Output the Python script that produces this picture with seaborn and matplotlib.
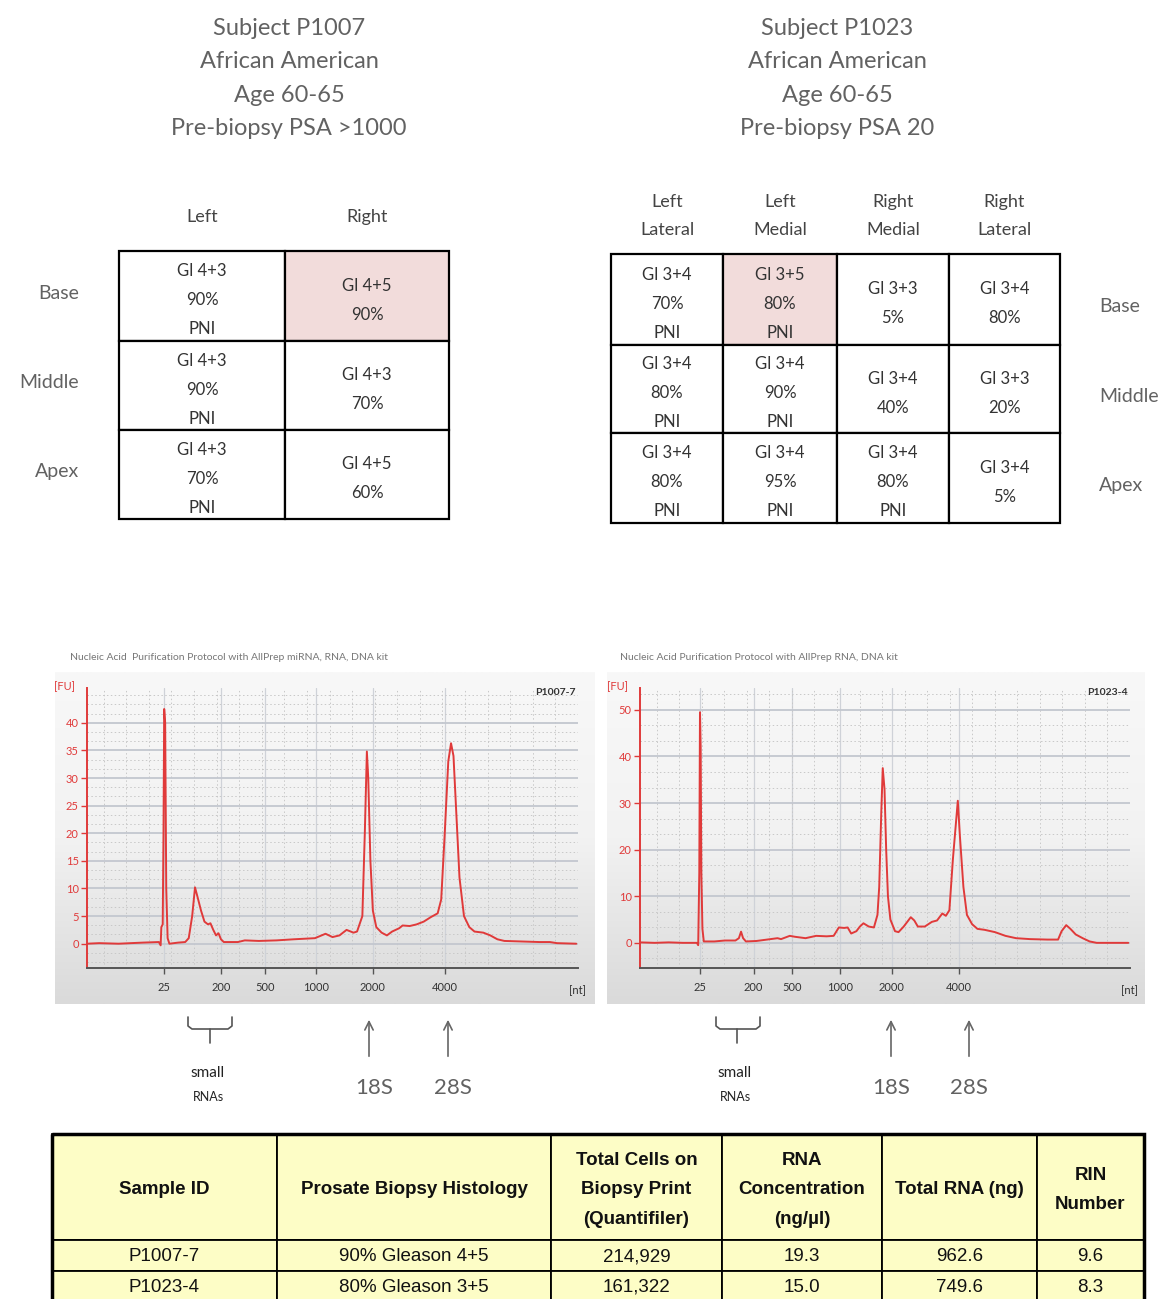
import numpy as np
import pandas as pd
import matplotlib
matplotlib.use("Agg")
import matplotlib.pyplot as plt
import seaborn as sns
from matplotlib.patches import Rectangle, FancyArrowPatch
from matplotlib.ticker import FixedLocator, MultipleLocator
from matplotlib.colors import LinearSegmentedColormap

# ------------------------------------------------------------------ data
subject_1 = ["Subject P1007", "African American", "Age 60-65", "Pre-biopsy PSA >1000"]
subject_2 = ["Subject P1023", "African American", "Age 60-65", "Pre-biopsy PSA 20"]

zones = ["Base", "Middle", "Apex"]
cols_1 = ["Left", "Right"]
cells_1 = [["Gl 4+3\n90%\nPNI", "Gl 4+5\n90%"],
           ["Gl 4+3\n90%\nPNI", "Gl 4+3\n70%"],
           ["Gl 4+3\n70%\nPNI", "Gl 4+5\n60%"]]
highlight_1 = [(0, 1)]

cols_2 = ["Left\nLateral", "Left\nMedial", "Right\nMedial", "Right\nLateral"]
cells_2 = [["Gl 3+4\n70%\nPNI", "Gl 3+5\n80%\nPNI", "Gl 3+3\n5%", "Gl 3+4\n80%"],
           ["Gl 3+4\n80%\nPNI", "Gl 3+4\n90%\nPNI", "Gl 3+4\n40%", "Gl 3+3\n20%"],
           ["Gl 3+4\n80%\nPNI", "Gl 3+4\n95%\nPNI", "Gl 3+4\n80%\nPNI", "Gl 3+4\n5%"]]
highlight_2 = [(0, 1)]

# electropherogram traces: migration time (s) vs fluorescence (FU)
time_1 = [19.00, 20.25, 22.21, 24.71, 26.32, 26.50, 26.57, 26.71, 26.79, 26.86, 26.96, 27.07,
          27.21, 27.39, 28.29, 29.00, 29.36, 29.71, 30.00, 30.25, 30.61, 30.96, 31.32, 31.57,
          31.86, 32.14, 32.39, 32.64, 32.93, 34.36, 35.07, 36.50, 38.29, 40.07, 42.21, 43.29,
          44.00, 44.71, 45.43, 46.14, 46.50, 47.04, 47.29, 47.50, 47.64, 47.86, 48.11, 48.46,
          49.00, 49.54, 50.07, 50.79, 51.14, 51.86, 52.57, 53.29, 54.00, 54.71, 55.07, 55.43,
          55.79, 56.07, 56.32, 56.57, 56.93, 57.39, 57.93, 58.46, 59.36, 60.07, 60.79, 61.50,
          63.29, 65.07, 66.14, 66.86, 68.82]
fu_1 = [0.0, 0.1, 0.0, 0.2, 0.3, -0.3, 3.0, 3.5, 20.0, 42.5, 40.0, 10.0,
        1.0, 0.0, 0.2, 0.3, 1.0, 5.0, 10.2, 8.5, 6.0, 4.0, 3.5, 3.7,
        2.5, 1.5, 1.9, 0.8, 0.3, 0.3, 0.6, 0.5, 0.6, 0.8, 1.0, 1.8,
        1.2, 1.5, 2.5, 2.0, 2.2, 5.0, 20.0, 34.8, 30.0, 15.0, 6.0, 3.0,
        2.0, 1.5, 2.2, 2.8, 3.3, 3.2, 3.5, 4.0, 4.8, 5.5, 8.0, 20.0,
        33.0, 36.3, 34.0, 25.0, 12.0, 5.0, 3.0, 2.2, 2.0, 1.5, 0.8, 0.5,
        0.4, 0.3, 0.3, 0.1, 0.0]

time_2 = [19.00, 20.50, 21.93, 23.37, 24.80, 24.94, 25.05, 25.12, 25.19, 25.26, 25.37, 25.51,
          26.59, 27.66, 28.74, 29.09, 29.31, 29.52, 29.81, 30.88, 31.96, 33.03, 33.39, 34.28,
          34.82, 35.89, 36.97, 38.04, 38.76, 39.29, 39.83, 40.19, 40.55, 41.08, 41.44, 41.80,
          42.34, 42.87, 43.23, 43.41, 43.62, 43.77, 43.95, 44.12, 44.30, 44.55, 45.02, 45.38,
          45.91, 46.27, 46.63, 46.99, 47.35, 48.06, 48.78, 49.31, 49.85, 50.21, 50.57, 50.93,
          51.21, 51.43, 51.64, 52.00, 52.36, 52.89, 53.43, 54.15, 55.22, 56.29, 57.37, 58.80,
          60.59, 61.66, 62.02, 62.49, 62.92, 63.46, 64.17, 64.88, 65.60, 68.46, 68.82]
fu_2 = [0.1, 0.0, 0.1, 0.0, 0.0, -0.5, 15.0, 49.5, 42.0, 15.0, 3.0, 0.3,
        0.3, 0.5, 0.5, 1.0, 2.4, 1.0, 0.3, 0.4, 0.7, 1.0, 0.8, 1.5,
        1.3, 1.0, 1.5, 1.4, 1.5, 3.3, 3.2, 3.3, 2.0, 2.5, 3.5, 4.2,
        3.5, 3.3, 6.0, 12.0, 28.0, 37.5, 33.0, 20.0, 10.0, 5.0, 2.5, 2.3,
        3.5, 4.5, 5.5, 4.8, 3.5, 3.5, 4.5, 4.8, 6.3, 5.8, 7.0, 18.0,
        25.0, 30.5, 23.0, 12.0, 6.0, 4.0, 3.0, 2.8, 2.3, 1.5, 1.0, 0.8,
        0.7, 0.7, 2.5, 3.8, 3.0, 1.8, 1.0, 0.3, 0.0, 0.0, 0.0]

fu_ticks_1 = [0, 5, 10, 15, 20, 25, 30, 35, 40]
fu_ticks_2 = [0, 10, 20, 30, 40, 50]

nt_labels = ["25", "200", "500", "1000", "2000", "4000"]
nt_time_1 = [26.86, 32.68, 37.11, 42.32, 48.11, 55.43]
nt_time_2 = [25.16, 30.60, 34.53, 39.37, 44.70, 51.57]

plot_titles = ["Nucleic Acid  Purification Protocol with AllPrep miRNA, RNA, DNA kit",
               "Nucleic Acid Purification Protocol with AllPrep RNA, DNA kit"]
sample_names = ["P1007-7", "P1023-4"]

table_header = ["Sample ID", "Prosate Biopsy Histology", "Total Cells on\nBiopsy Print\n(Quantifiler)",
                "RNA\nConcentration\n(ng/\u00b5l)", "Total RNA (ng)", "RIN\nNumber"]
table_rows = [["P1007-7", "90% Gleason 4+5", "214,929", "19.3", "962.6", "9.6"],
              ["P1023-4", "80% Gleason 3+5", "161,322", "15.0", "749.6", "8.3"]]

# ------------------------------------------------------------------ style
sns.set_style("white")
plt.rcParams["font.family"] = ["Lato", "DejaVu Sans"]

W, H = 1167, 1299
fig = plt.figure(figsize=(W / 100, H / 100), dpi=100)

ov = fig.add_axes([0, 0, 1, 1], zorder=0)
ov.set_xlim(0, W)
ov.set_ylim(H, 0)
ov.axis("off")

GRAY = "#626262"
PINK = "#f2dcdb"

# subject headers (one text per line)
title_rows_y = [28, 61, 95, 128]
for cx, lines in [(289, subject_1), (837, subject_2)]:
    for y, line in zip(title_rows_y, lines):
        ov.text(cx, y, line, ha="center", va="center", fontsize=17, color=GRAY)


def draw_grid(x_edges, y_edges, cells, highlight, cols, header_y, row_x, row_ha, row_dy):
    for i in range(len(y_edges) - 1):
        for j in range(len(x_edges) - 1):
            x0, x1 = x_edges[j], x_edges[j + 1]
            y0, y1 = y_edges[i], y_edges[i + 1]
            fc = PINK if (i, j) in highlight else "white"
            ov.add_patch(Rectangle((x0, y0), x1 - x0, y1 - y0, facecolor=fc,
                                   edgecolor="black", lw=1.6))
            ov.text((x0 + x1) / 2, (y0 + y1) / 2 + 4, cells[i][j], ha="center", va="center",
                    fontsize=12, color="#333333", linespacing=2.0)
        ov.text(row_x, (y_edges[i] + y_edges[i + 1]) / 2 + row_dy, zones[i], ha=row_ha,
                va="center", fontsize=14, color=GRAY)
    for j, c in enumerate(cols):
        ov.text((x_edges[j] + x_edges[j + 1]) / 2, header_y, c, ha="center", va="center",
                fontsize=13, color="#444444", linespacing=1.9)


draw_grid([119, 285, 449], [251, 341, 430, 519], cells_1, highlight_1, cols_1,
          217, 79, "right", -3)
draw_grid([611, 723, 837, 949, 1060], [254, 345, 433, 523], cells_2, highlight_2, cols_2,
          216, 1099, "left", 7)

# electropherogram panels
grad_cmap = LinearSegmentedColormap.from_list("g", ["#f8f8f8", "#f2f2f2", "#dadada"])
grad = np.linspace(0, 1, 200).reshape(-1, 1)
for (px0, px1) in [(55, 595), (607, 1145)]:
    ov.imshow(grad, extent=[px0, px1, 1004, 672], cmap=grad_cmap, aspect="auto",
              origin="upper", zorder=0)
ov.set_xlim(0, W)
ov.set_ylim(H, 0)

ov.text(70, 657, plot_titles[0], ha="left", va="center", fontsize=7.5, color="#777777")
ov.text(620, 657, plot_titles[1], ha="left", va="center", fontsize=7.5, color="#777777")

RED = "#e03a3a"
panels = [
    dict(left=87, right=578, t=time_1, fu=fu_1, ticks=nt_time_1, ylim=(-4.4, 46.3),
         yt=fu_ticks_1, ymin=5 / 3, name=sample_names[0]),
    dict(left=640, right=1130, t=time_2, fu=fu_2, ticks=nt_time_2, ylim=(-5.4, 54.7),
         yt=fu_ticks_2, ymin=10 / 3, name=sample_names[1]),
]
top_px, bot_px = 688, 968
for p in panels:
    ax = fig.add_axes([p["left"] / W, 1 - bot_px / H, (p["right"] - p["left"]) / W,
                       (bot_px - top_px) / H], zorder=2)
    ax.patch.set_alpha(0)
    df = pd.DataFrame({"time": p["t"], "fu": p["fu"]})
    sns.lineplot(data=df, x="time", y="fu", ax=ax, color=RED, lw=1.4, estimator=None,
                 sort=False)
    ax.set_xlim(19, 69)
    ax.set_ylim(*p["ylim"])
    ax.set_xlabel("")
    ax.set_ylabel("")
    ax.yaxis.set_major_locator(FixedLocator(p["yt"]))
    ax.yaxis.set_minor_locator(MultipleLocator(p["ymin"]))
    ax.xaxis.set_major_locator(FixedLocator(p["ticks"]))
    ax.set_xticklabels(nt_labels)
    ax.xaxis.set_minor_locator(MultipleLocator(2.3))
    ax.grid(True, which="major", axis="y", color="#c3c7cf", lw=1.3)
    ax.grid(True, which="major", axis="x", color="#cfd2d8", lw=0.9)
    ax.grid(True, which="minor", axis="both", color="#c8c8c8", lw=0.7, ls=(0, (1.5, 2.5)))
    for s in ["top", "right"]:
        ax.spines[s].set_visible(False)
    ax.spines["left"].set_color(RED)
    ax.spines["left"].set_linewidth(1.4)
    ax.spines["bottom"].set_color("#555555")
    ax.spines["bottom"].set_linewidth(1.4)
    ax.tick_params(axis="y", which="major", colors=RED, labelsize=8, length=4, width=1,
                   left=True, pad=2)
    ax.tick_params(axis="y", which="minor", left=False)
    ax.tick_params(axis="x", which="major", colors="#555555", labelcolor="#333333",
                   labelsize=8, length=4, width=1, bottom=True, pad=6)
    ax.tick_params(axis="x", which="minor", bottom=False)
    ax.text(0.995, 1.0, p["name"], transform=ax.transAxes, ha="right", va="top",
            fontsize=7.5, color="#333333", fontweight="bold")
    ax.text(-0.045, 1.005, "[FU]", transform=ax.transAxes, ha="center", va="center",
            fontsize=8, color=RED)
    ax.text(1.0, -0.06, "[nt]", transform=ax.transAxes, ha="center", va="top",
            fontsize=8, color="#333333")

# annotations below panels
ann = [dict(b0=188, b1=232, bc=210, tx=208, a18=369, a28=448, t18=374, t28=453),
       dict(b0=716, b1=760, bc=737, tx=735, a18=891, a28=969, t18=891, t28=969)]
for a in ann:
    ov.plot([a["b0"], a["b0"], a["b0"] + 4, a["b1"] - 4, a["b1"], a["b1"]],
            [1017, 1026, 1029, 1029, 1026, 1017], color="#555555", lw=1.2)
    ov.plot([a["bc"], a["bc"]], [1029, 1043], color="#555555", lw=1.2)
    ov.text(a["tx"], 1073, "small", ha="center", va="center", fontsize=11, color="#222222")
    ov.text(a["tx"], 1097, "RNAs", ha="center", va="center", fontsize=9, color="#222222")
    for x in (a["a18"], a["a28"]):
        ov.add_patch(FancyArrowPatch((x, 1059), (x, 1017),
                                     arrowstyle="->,head_length=6,head_width=3",
                                     color="#666666", lw=1.2, mutation_scale=1))
    ov.text(a["t18"], 1088, "18S", ha="center", va="center", fontsize=16, color=GRAY)
    ov.text(a["t28"], 1088, "28S", ha="center", va="center", fontsize=16, color=GRAY)

# bottom table
TFONT = ["Liberation Sans Narrow", "Liberation Sans", "DejaVu Sans"]
col_edges = [52, 277, 551, 722, 882, 1037, 1144]
row_edges = [1134, 1240, 1271, 1302]
YEL = "#fdfdc6"
all_rows = [table_header] + table_rows
for i in range(len(row_edges) - 1):
    for j in range(len(col_edges) - 1):
        x0, x1 = col_edges[j], col_edges[j + 1]
        y0, y1 = row_edges[i], row_edges[i + 1]
        ov.add_patch(Rectangle((x0, y0), x1 - x0, y1 - y0, facecolor=YEL, edgecolor="black",
                               lw=1.3))
        ov.text((x0 + x1) / 2, (y0 + y1) / 2 + (3 if i == 0 else 1), all_rows[i][j],
                ha="center", va="center",
                fontsize=13.5, fontweight="bold" if i == 0 else "normal",
                family=TFONT, color="#111111", linespacing=1.95)
ov.add_patch(Rectangle((col_edges[0], row_edges[0]), col_edges[-1] - col_edges[0],
                       row_edges[-1] - row_edges[0], facecolor="none", edgecolor="black",
                       lw=2.5))

fig.savefig("out.png", dpi=100)
